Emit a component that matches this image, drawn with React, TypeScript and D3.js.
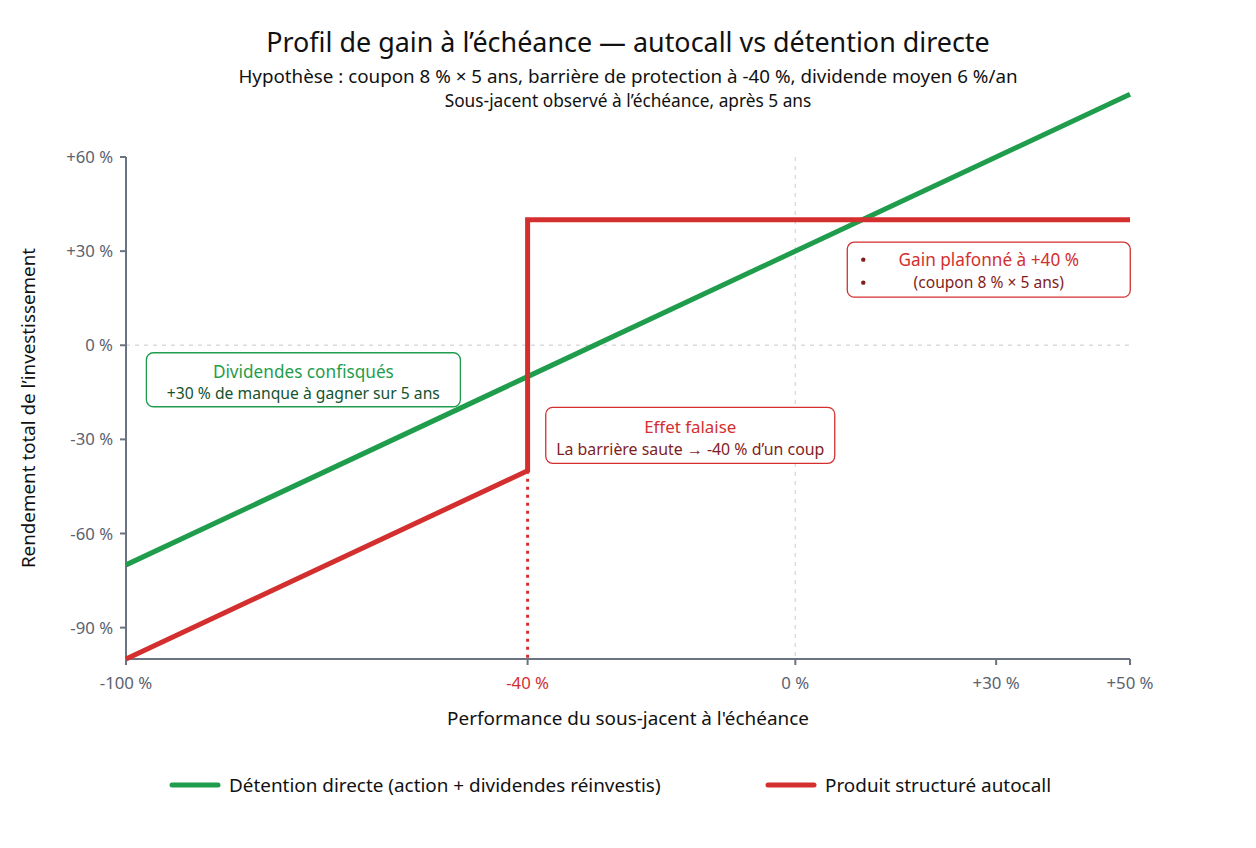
import * as React from 'react';
import { scaleLinear, line as d3line } from 'd3';

// --- data -----------------------------------------------------------------
const underlyingPerf = [-100, -40, 50];
const directReturn = [-70, -10, 80];
const autocallPerf = [-100, -40, -40, 50];
const autocallReturn = [-100, -40, 40, 40];
const barrier = -40;

const xTicks = [-100, -40, 0, 30, 50];
const yTicks = [-90, -60, -30, 0, 30, 60];

const seriesNames = ['Détention directe (action + dividendes réinvestis)', 'Produit structuré autocall'];

const GREEN = '#1f9d4c';
const RED = '#d32f2f';
const DARK_RED = '#7f1d1d';
const DARK_GREEN = '#14532d';
const AXIS = '#6b7280';
const TICK_TXT = '#5b6270';
const FONT = '"Noto Sans", "Open Sans", sans-serif';

const fmt = (v: number) => (v > 0 ? `+${v} %` : `${v} %`);

type Pt = { x: number; y: number };

export default function App() {
  const W = 1256, H = 848;
  const x = scaleLinear().domain([-100, 50]).range([126, 1130]);
  const y = scaleLinear().domain([-100, 60]).range([659, 157]);

  const direct: Pt[] = underlyingPerf.map((v, i) => ({ x: v, y: directReturn[i] }));
  const autocall: Pt[] = autocallPerf.map((v, i) => ({ x: v, y: autocallReturn[i] }));
  const path = d3line<Pt>().x(p => x(p.x)).y(p => y(p.y));

  const [x0, x1] = x.range();
  const [yb, yt] = y.range();

  // annotation boxes, anchored at data coordinates (centre)
  const notes = [
    { cx: -73.5, cy: -11, w: 314, h: 54, stroke: GREEN, l1: 'Dividendes confisqués', c1: GREEN, f1: 17.2, o1: -2, l2: '+30 % de manque à gagner sur 5 ans', c2: DARK_GREEN, f2: 15.7, o2: 19, bullets: false },
    { cx: -15.7, cy: -28.7, w: 289, h: 56, stroke: RED, l1: 'Effet falaise', c1: RED, f1: 16.9, o1: -2, l2: 'La barrière saute → -40 % d’un coup', c2: DARK_RED, f2: 15.9, o2: 20, bullets: false },
    { cx: 28.9, cy: 24.1, w: 283, h: 55, stroke: RED, l1: 'Gain plafonné à +40 %', c1: RED, f1: 17.2, o1: -3.5, l2: '(coupon 8 % × 5 ans)', c2: DARK_RED, f2: 15.6, o2: 18.5, bullets: true },
  ];

  return (
    <svg width={W} height={H} style={{ display: 'block', margin: -8, fontFamily: FONT }}>
      <rect width={W} height={H} fill="#fff" />

      {/* titles */}
      <text x={628} y={52} textAnchor="middle" fontSize={26.9} fill="#111">Profil de gain à l’échéance — autocall vs détention directe</text>
      <text x={628} y={83} textAnchor="middle" fontSize={18.8} fill="#111">Hypothèse : coupon 8 % × 5 ans, barrière de protection à -40 %, dividende moyen 6 %/an</text>
      <text x={628} y={107} textAnchor="middle" fontSize={17.3} fill="#111">Sous-jacent observé à l’échéance, après 5 ans</text>

      {/* zero gridlines */}
      <line x1={x0} x2={x1} y1={y(0)} y2={y(0)} stroke="#d9dce1" strokeWidth={1.5} strokeDasharray="4,5" />
      <line x1={x(0)} x2={x(0)} y1={yt} y2={yb} stroke="#d9dce1" strokeWidth={1.5} strokeDasharray="4,5" />

      {/* axes */}
      <line x1={x0} x2={x0} y1={yt} y2={yb} stroke={AXIS} strokeWidth={2} />
      <line x1={x0} x2={x1} y1={yb} y2={yb} stroke={AXIS} strokeWidth={2} />
      {yTicks.map(t => (
        <g key={t}>
          <line x1={x0 - 6} x2={x0} y1={y(t)} y2={y(t)} stroke={AXIS} strokeWidth={2} />
          <text x={x0 - 13} y={y(t) + 6} textAnchor="end" fontSize={16.7} fill={TICK_TXT}>{fmt(t)}</text>
        </g>
      ))}
      {xTicks.map(t => (
        <g key={t}>
          <line x1={x(t)} x2={x(t)} y1={yb} y2={yb + 6} stroke={AXIS} strokeWidth={2} />
          <text x={x(t)} y={yb + 30} textAnchor="middle" fontSize={16.8} fill={t === barrier ? RED : TICK_TXT}>{fmt(t)}</text>
        </g>
      ))}

      <text x={628} y={725} textAnchor="middle" fontSize={18.9} fill="#111">Performance du sous-jacent à l'échéance</text>
      <text transform={`translate(35,${(yt + yb) / 2}) rotate(-90)`} textAnchor="middle" fontSize={18.8} fill="#111">Rendement total de l’investissement</text>

      {/* barrier dotted line */}
      <line x1={x(barrier)} x2={x(barrier)} y1={y(barrier)} y2={yb} stroke={RED} strokeWidth={3} strokeDasharray="3,5" />

      {/* series */}
      <path d={path(direct) ?? ''} fill="none" stroke={GREEN} strokeWidth={5} />
      <path d={path(autocall) ?? ''} fill="none" stroke={RED} strokeWidth={5} strokeLinejoin="miter" />

      {/* annotations */}
      {notes.map((n, i) => {
        const cx = x(n.cx), cy = y(n.cy);
        return (
          <g key={i}>
            <rect x={cx - n.w / 2} y={cy - n.h / 2} width={n.w} height={n.h} rx={7} fill="#fff" stroke={n.stroke} strokeWidth={1.3} />
            <text x={cx} y={cy + n.o1} textAnchor="middle" fontSize={n.f1} fill={n.c1}>{n.l1}</text>
            <text x={cx} y={cy + n.o2} textAnchor="middle" fontSize={n.f2} fill={n.c2}>{n.l2}</text>
            {n.bullets && (
              <g fill={DARK_RED}>
                <circle cx={cx - n.w / 2 + 16} cy={cy - 10} r={2.2} />
                <circle cx={cx - n.w / 2 + 16} cy={cy + 13} r={2.2} />
              </g>
            )}
          </g>
        );
      })}

      {/* legend */}
      {seriesNames.map((name, i) => {
        const lx = i === 0 ? 172 : 768;
        return (
          <g key={name}>
            <line x1={lx} x2={lx + 46} y1={785} y2={785} stroke={i === 0 ? GREEN : RED} strokeWidth={5} strokeLinecap="round" />
            <text x={lx + 57} y={792} fontSize={18.9} fill="#111">{name}</text>
          </g>
        );
      })}
    </svg>
  );
}
